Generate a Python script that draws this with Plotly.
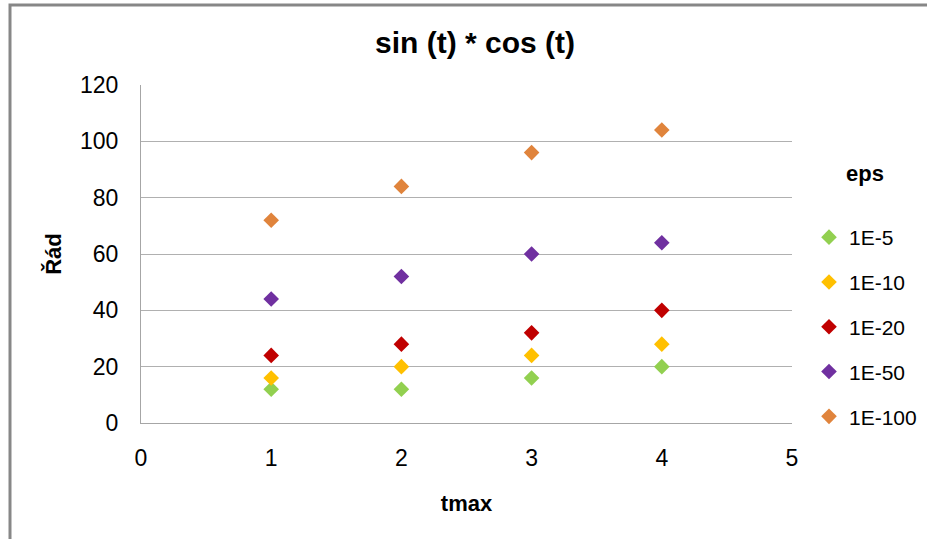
import plotly.graph_objects as go

tmax = [1, 2, 3, 4]
series_names = ["1E-5", "1E-10", "1E-20", "1E-50", "1E-100"]
rad_1e5 = [12, 12, 16, 20]
rad_1e10 = [16, 20, 24, 28]
rad_1e20 = [24, 28, 32, 40]
rad_1e50 = [44, 52, 60, 64]
rad_1e100 = [72, 84, 96, 104]
colors = ["#92D050", "#FFC000", "#C00000", "#7030A0", "#E0843C"]
series_values = [rad_1e5, rad_1e10, rad_1e20, rad_1e50, rad_1e100]

W, H = 927, 539
L, R, T, B = 141, 135, 85, 116
FONT = "Liberation Sans, Arial, sans-serif"

fig = go.Figure()
for i, (name, vals, col) in enumerate(zip(series_names, series_values, colors)):
    fig.add_trace(go.Scatter(
        x=tmax, y=vals, mode="markers", name=name,
        legendgroup=name,
        marker=dict(symbol="diamond", size=12, color=col, line=dict(width=0)),
    ))

pw = W - L - R
ph = H - T - B
def px_x(p):
    return (p - L) / pw
def px_y(p):
    return (H - B - p) / ph

fig.update_layout(
    width=W, height=H,
    margin=dict(l=L, r=R, t=T, b=B, autoexpand=False),
    paper_bgcolor="white", plot_bgcolor="white",
    font=dict(family=FONT, size=23, color="#000000"),
    title=dict(text="<b>sin (t) * cos (t)</b>", x=475 / W, xanchor="center",
               y=1 - 42 / H, yanchor="middle", yref="container",
               font=dict(size=30, family=FONT)),
    showlegend=True,
    legend=dict(x=px_x(809), xanchor="left", y=px_y(217), yanchor="top",
                font=dict(size=21, family=FONT), tracegroupgap=14.5,
                traceorder="grouped", bgcolor="rgba(0,0,0,0)",
                itemsizing="constant"),
    xaxis=dict(range=[0, 5], dtick=1, tick0=0, showgrid=False, zeroline=False,
               showline=True, linecolor="#A6A6A6", linewidth=1,
               ticks="", ticklabelstandoff=14,
               tickfont=dict(size=23),
               title=dict(text="<b>tmax</b>", font=dict(size=22), standoff=26)),
    yaxis=dict(range=[0, 120], dtick=20, tick0=0, showgrid=True,
               gridcolor="#B0B0B0", gridwidth=1, zeroline=False,
               showline=True, linecolor="#A6A6A6", linewidth=1,
               ticks="", ticklabelstandoff=17,
               tickfont=dict(size=23),
               title=dict(text="<b>Řád</b>", font=dict(size=22), standoff=12)),
    annotations=[dict(text="<b>eps</b>", x=px_x(865), y=px_y(173),
                      xref="paper", yref="paper", xanchor="center",
                      yanchor="middle", showarrow=False,
                      font=dict(size=22, family=FONT))],
    shapes=[dict(type="rect", xref="paper", yref="paper",
                 x0=px_x(10), x1=px_x(940), y0=px_y(5), y1=px_y(560),
                 line=dict(color="#878787", width=3), fillcolor="rgba(0,0,0,0)",
                 layer="below")],
)

fig.write_html("out.html")
